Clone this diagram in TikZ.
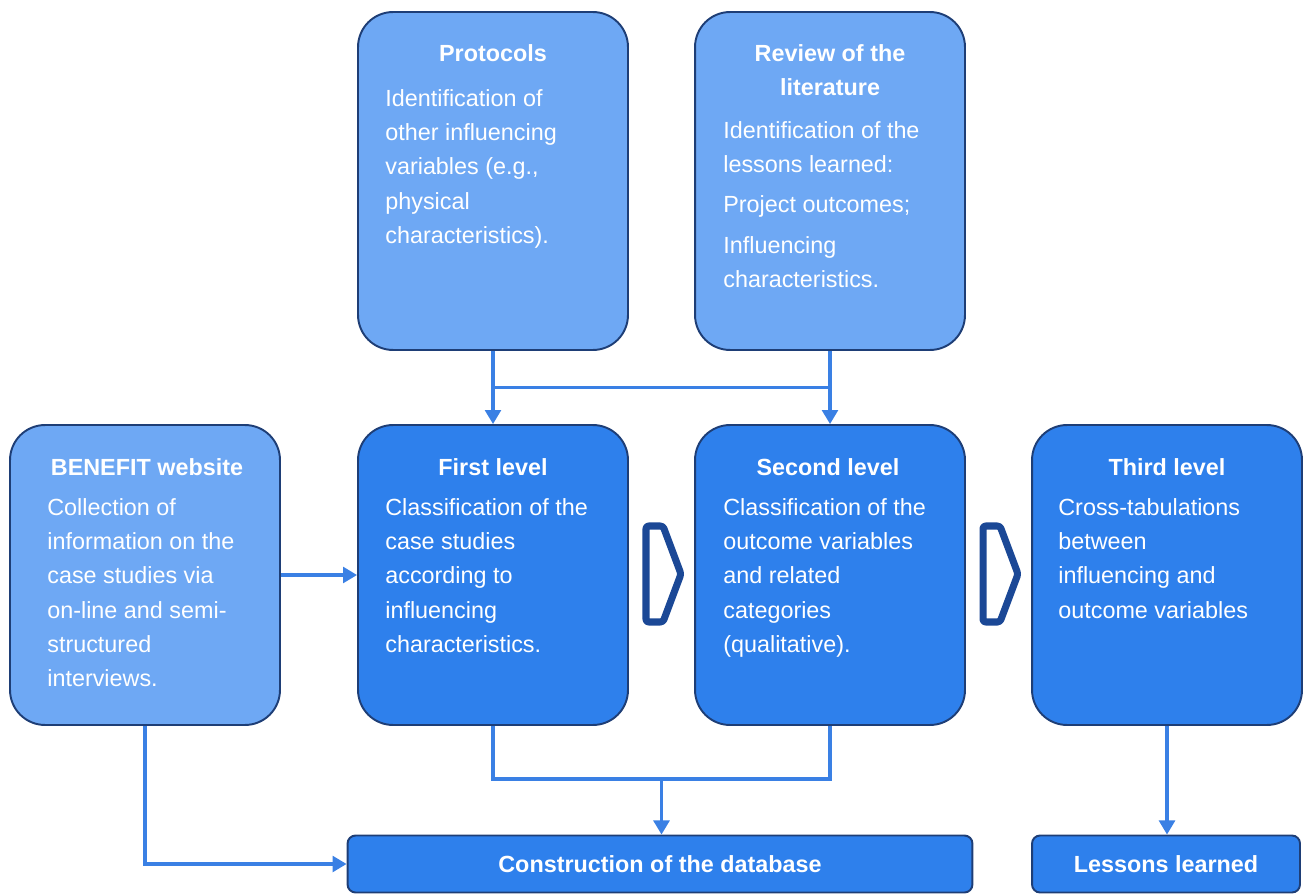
\documentclass[tikz,border=0pt]{standalone}
\usepackage{fontspec}
\setmainfont{Liberation Sans}
\usepackage{tikz}
\definecolor{boxlight}{RGB}{110,168,244}
\definecolor{boxdark}{RGB}{46,128,236}
\definecolor{boxedge}{RGB}{30,62,118}
\definecolor{linkblue}{RGB}{58,128,228}
\definecolor{chevnavy}{RGB}{27,72,150}
\usetikzlibrary{arrows.meta,positioning,calc}

\begin{document}
\begin{tikzpicture}[
  x=0.02cm, y=-0.02cm,
  every node/.style={font=\fontsize{13.3}{19.5}\selectfont,text=white},
  srcbox/.style={draw=boxedge,line width=1.1pt,fill=boxlight,rounded corners=0.7cm,
                 minimum width=5.4cm,minimum height=6cm,inner sep=0pt},
  lvlbox/.style={srcbox,fill=boxdark},
  endbox/.style={draw=boxedge,line width=1.1pt,fill=boxdark,rounded corners=0.16cm,
                 minimum height=1.14cm,inner sep=0pt,font=\fontsize{13.3}{16}\selectfont\bfseries},
  boxtitle/.style={anchor=north,inner sep=0pt,align=center,
                   font=\fontsize{13.3}{19.5}\selectfont\bfseries},
  boxbody/.style={anchor=north west,inner sep=0pt,align=left},
  conn/.style={draw=linkblue,line width=1.8pt},
  arr/.style={conn,-{Triangle[length=8pt,width=9pt]}},
  chev/.style={draw=chevnavy,line width=4pt,line join=round,rounded corners=1.5pt},
]
  \useasboundingbox (0,0) rectangle (1304,895);

  % Sources
  \node[srcbox,minimum height=6.76cm] (proto) at (493,181) {};
  \node[boxtitle] (proto-t) at (493,44) {Protocols};
  \node[boxbody] (proto-b) at (385,89)
    {Identification of\\ other influencing\\ variables (e.g.,\\ physical\\ characteristics).};

  \node[srcbox,minimum height=6.76cm] (review) at (830,181) {};
  \node[boxtitle] (review-t) at (830,44) {Review of the\\ literature};
  \node[boxbody] (review-b) at (723,121)
    {Identification of the\\ lessons learned:\\[3pt] Project outcomes;\\[4pt] Influencing\\ characteristics.};

  \node[srcbox] (benefit) at (145,575) {};
  \node[boxtitle] (benefit-t) at (147,458) {BENEFIT website};
  \node[boxbody] (benefit-b) at (47,498)
    {Collection of\\ information on the\\ case studies via\\ on-line and semi-\\ structured\\ interviews.};

  % Levels
  \node[lvlbox] (first) at (493,575) {};
  \node[boxtitle] (first-t) at (493,458) {First level};
  \node[boxbody] (first-b) at (385,498)
    {Classification of the\\ case studies\\ according to\\ influencing\\ characteristics.};

  \node[lvlbox] (second) at (830,575) {};
  \node[boxtitle] (second-t) at (828,458) {Second level};
  \node[boxbody] (second-b) at (723,498)
    {Classification of the\\ outcome variables\\ and related\\ categories\\ (qualitative).};

  \node[lvlbox] (third) at (1167,575) {};
  \node[boxtitle] (third-t) at (1167,458) {Third level};
  \node[boxbody] (third-b) at (1058,498)
    {Cross-tabulations\\ between\\ influencing and\\ outcome variables};

  \foreach \cx in {646,983}
    \draw[chev] (\cx,526) -- ++(17,0) -- ++(18,48) -- ++(-18,48) -- ++(-17,0) -- cycle;

  % Results
  \node[endbox,minimum width=12.5cm] (db) at (660,864) {Construction of the database};
  \node[endbox,minimum width=5.36cm] (lessons) at (1166,864) {Lessons learned};

  % Connectors
  \coordinate (jtl) at ($(proto.south)!0.5!(first.north)$);
  \coordinate (jtr) at ($(review.south)!0.5!(second.north)$);
  \coordinate (jb) at ($(first.south)!0.5!(second.south)+(0,53)$);
  \draw[arr] (proto) -- (first);
  \draw[arr] (review) -- (second);
  \draw[conn] (jtl) -- (jtr);
  \draw[arr] (benefit) -- (first);
  \draw[conn] (first.south) |- (jb) -| (second.south);
  \draw[arr] (jb) -- (jb |- db.north);
  \draw[arr] (benefit.south) |- (db.west);
  \draw[arr] (third.south) -- (third.south |- lessons.north);
\end{tikzpicture}
\end{document}
